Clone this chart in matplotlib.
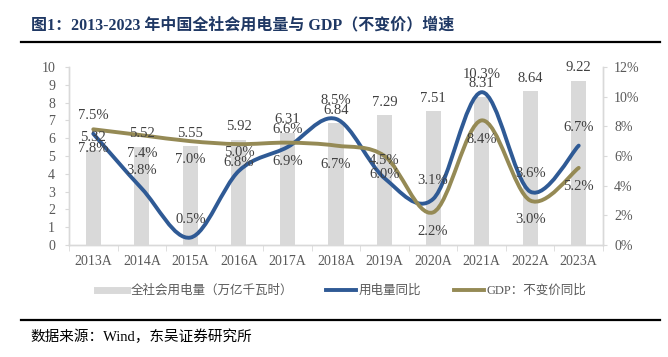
import numpy as np
import matplotlib
matplotlib.use('Agg')
import matplotlib.pyplot as plt
from matplotlib.path import Path
from matplotlib.patches import PathPatch
from matplotlib.lines import Line2D
from matplotlib.ticker import FuncFormatter, MultipleLocator, FixedLocator

years = ['2013A', '2014A', '2015A', '2016A', '2017A', '2018A',
         '2019A', '2020A', '2021A', '2022A', '2023A']
power = [5.32, 5.52, 5.55, 5.92, 6.31, 6.84, 7.29, 7.51, 8.31, 8.64, 9.22]
power_yoy = [7.5, 3.8, 0.5, 5.0, 6.6, 8.5, 4.5, 3.1, 10.3, 3.6, 6.7]
gdp_yoy = [7.8, 7.4, 7.0, 6.8, 6.9, 6.7, 6.0, 2.2, 8.4, 3.0, 5.2]

legend_labels = ['全社会用电量（万亿千瓦时）', '用电量同比', 'GDP：不变价同比']
title = '图1：2013-2023 年中国全社会用电量与 GDP（不变价）增速'
source = '数据来源：Wind，东吴证券研究所'

FONT = ['Liberation Serif', 'Noto Sans CJK SC', 'DejaVu Sans']
plt.rcParams['font.family'] = FONT

BAR_C = '#D9D9D9'
BLUE = '#2F5A95'
OLIVE = '#958A55'
TXT = '#404040'
TICK = '#595959'

W, H = 668, 357
fig = plt.figure(figsize=(W / 100, H / 100), dpi=100)
ax = fig.add_axes([69 / W, 1 - 245 / H, (603 - 69) / W, (245 - 67) / H])
x = np.arange(len(years))
ax.bar(x, power, width=0.31, color=BAR_C, zorder=1)
ax.set_xlim(-0.5, len(years) - 0.5)
ax.set_ylim(0, 10)
ax.yaxis.set_major_locator(MultipleLocator(1))

ax2 = ax.twinx()
ax2.set_ylim(0, 12)
ax2.yaxis.set_major_locator(MultipleLocator(2))
ax2.yaxis.set_major_formatter(FuncFormatter(lambda v, p: f'{v:.0f}%'))


def smooth_path(xs, ys):
    n = len(xs)
    verts = [(xs[0], ys[0])]
    codes = [Path.MOVETO]
    for i in range(n - 1):
        a = max(i - 1, 0)
        d = min(i + 2, n - 1)
        c1 = (xs[i] + (xs[i + 1] - xs[a]) / 6, ys[i] + (ys[i + 1] - ys[a]) / 6)
        c2 = (xs[i + 1] - (xs[d] - xs[i]) / 6, ys[i + 1] - (ys[d] - ys[i]) / 6)
        verts += [c1, c2, (xs[i + 1], ys[i + 1])]
        codes += [Path.CURVE4] * 3
    return Path(verts, codes)


for vals, col, z in [(power_yoy, BLUE, 3), (gdp_yoy, OLIVE, 4)]:
    patch = PathPatch(smooth_path(list(x), vals), facecolor='none', edgecolor=col,
                      lw=2.8, capstyle='round', joinstyle='round', zorder=z,
                      transform=ax2.transData)
    ax2.add_patch(patch)

# data labels
for xi, v in zip(x, power):
    ax2.annotate(f'{v:.2f}', (xi, v), xycoords=ax.transData, xytext=(0, 9.5),
                 textcoords='offset points', ha='center', va='center',
                 fontsize=10.5, color=TXT, zorder=10)
for xi, v in zip(x, power_yoy):
    ax2.annotate(f'{v:.1f}%', (xi, v), xycoords=ax2.transData, xytext=(0, 13),
                 textcoords='offset points', ha='center', va='center',
                 fontsize=10.5, color=TXT, zorder=10)
for xi, v in zip(x, gdp_yoy):
    ax2.annotate(f'{v:.1f}%', (xi, v), xycoords=ax2.transData, xytext=(0, -13.5),
                 textcoords='offset points', ha='center', va='center',
                 fontsize=10.5, color=TXT, zorder=10)

# axes styling
ax.set_xticks(x)
ax.set_xticklabels(years)
ax.xaxis.set_minor_locator(FixedLocator(np.arange(-0.5, len(years), 1.0)))
ax.tick_params(axis='x', which='major', length=0, pad=7, labelsize=10, labelcolor=TICK)
ax.tick_params(axis='x', which='minor', length=4, color=BAR_C, direction='out')
ax.tick_params(axis='y', length=3, color=BAR_C, pad=7, labelsize=10, labelcolor=TICK)
ax2.tick_params(axis='y', length=3, color=BAR_C, pad=5, labelsize=10, labelcolor=TICK)
for a in (ax, ax2):
    a.spines['top'].set_visible(False)
    for s in ('left', 'right', 'bottom'):
        a.spines[s].set_color(BAR_C)
        a.spines[s].set_linewidth(1.0)

# legend
handles = [Line2D([], [], color=BAR_C, lw=5),
           Line2D([], [], color=BLUE, lw=2.8),
           Line2D([], [], color=OLIVE, lw=2.8)]
leg = fig.legend(handles, legend_labels, loc='center', bbox_to_anchor=(342 / W, 1 - 291 / H),
                 ncol=3, frameon=False, fontsize=9, handlelength=2.4,
                 handletextpad=0.25, columnspacing=2.6)
for t in leg.get_texts():
    t.set_color(TICK)

# header / footer
fig.text(31 / W, 1 - 25 / H, title, fontsize=11.5, fontweight='bold', color='#1F3864',
         ha='left', va='center')
fig.add_artist(Line2D([21 / W, 660 / W], [1 - 42 / H] * 2, color='black', lw=1.6))
fig.add_artist(Line2D([21 / W, 660 / W], [1 - 320 / H] * 2, color='black', lw=1.6))
fig.text(30 / W, 1 - 337 / H, source, fontsize=10.5, color='black', ha='left', va='center')

fig.savefig('out.png', dpi=100)
